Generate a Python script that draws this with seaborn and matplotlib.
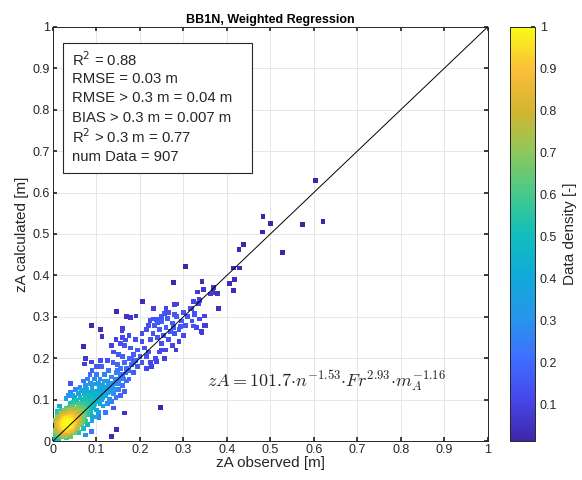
"""
Density scatter of calculated vs observed zA (BB1N, weighted regression)
"""

import numpy as np
import pandas as pd
import seaborn as sns
from matplotlib import pyplot as plt
from matplotlib.colors import LinearSegmentedColormap, Normalize
from matplotlib.cm import ScalarMappable
from matplotlib.patches import Rectangle

# points: (zA observed, zA calculated)
core_pts = [
    (0.010, 0.012), (0.014, 0.020), (0.018, 0.015), (0.012, 0.028), (0.020, 0.025),
    (0.024, 0.018), (0.016, 0.034), (0.022, 0.032), (0.026, 0.027), (0.028, 0.036),
    (0.030, 0.022), (0.019, 0.040), (0.025, 0.042), (0.032, 0.031), (0.034, 0.040),
    (0.029, 0.047), (0.036, 0.026), (0.038, 0.035), (0.021, 0.047), (0.015, 0.045),
    (0.040, 0.044), (0.042, 0.031), (0.035, 0.051), (0.027, 0.054), (0.044, 0.039),
    (0.046, 0.050), (0.013, 0.038), (0.031, 0.058), (0.039, 0.057), (0.048, 0.043),
    (0.024, 0.060), (0.011, 0.049), (0.017, 0.057), (0.050, 0.055), (0.044, 0.062),
    (0.037, 0.066), (0.053, 0.048), (0.033, 0.038), (0.023, 0.037), (0.027, 0.031),
    (0.020, 0.020), (0.031, 0.044), (0.017, 0.026), (0.008, 0.020), (0.006, 0.008),
    (0.012, 0.005), (0.022, 0.010), (0.028, 0.014), (0.034, 0.017), (0.040, 0.022),
    (0.046, 0.028), (0.008, 0.032), (0.009, 0.042), (0.014, 0.052), (0.021, 0.064),
    (0.029, 0.068), (0.041, 0.072), (0.049, 0.066), (0.055, 0.060), (0.057, 0.070),
    (0.052, 0.036), (0.058, 0.047), (0.062, 0.055), (0.047, 0.076), (0.035, 0.074),
    (0.026, 0.074), (0.016, 0.066), (0.010, 0.060), (0.006, 0.050), (0.032, 0.008),
    (0.040, 0.012), (0.050, 0.020), (0.056, 0.030), (0.060, 0.040), (0.065, 0.065),
    (0.063, 0.075), (0.055, 0.080), (0.045, 0.085), (0.038, 0.082), (0.030, 0.080),
    (0.020, 0.075), (0.068, 0.050), (0.070, 0.060), (0.072, 0.070), (0.066, 0.082),
    (0.058, 0.088), (0.048, 0.093), (0.040, 0.092), (0.015, 0.085), (0.010, 0.072),
    (0.012, 0.016), (0.016, 0.024), (0.020, 0.030), (0.024, 0.034), (0.028, 0.040),
    (0.032, 0.045), (0.036, 0.049), (0.040, 0.053), (0.044, 0.057), (0.018, 0.036),
    (0.022, 0.042), (0.026, 0.046), (0.030, 0.050), (0.034, 0.055), (0.038, 0.060),
    (0.014, 0.030), (0.010, 0.024), (0.018, 0.020), (0.022, 0.022), (0.026, 0.022),
    (0.030, 0.028), (0.034, 0.034), (0.038, 0.040), (0.042, 0.046), (0.046, 0.034),
    (0.042, 0.026), (0.036, 0.021), (0.030, 0.017), (0.024, 0.013), (0.016, 0.010),
    (0.009, 0.015), (0.006, 0.025), (0.011, 0.034), (0.015, 0.041), (0.019, 0.051),
    (0.023, 0.055), (0.027, 0.060), (0.033, 0.063), (0.040, 0.065), (0.045, 0.068),
    (0.051, 0.060), (0.048, 0.050), (0.044, 0.046), (0.037, 0.044), (0.033, 0.026),
    (0.028, 0.025), (0.021, 0.036), (0.017, 0.046), (0.013, 0.044), (0.025, 0.050),
    (0.031, 0.054), (0.035, 0.045), (0.039, 0.030), (0.043, 0.036), (0.047, 0.040),
    (0.050, 0.046), (0.054, 0.054), (0.020, 0.058), (0.012, 0.058), (0.008, 0.038),
    (0.005, 0.015), (0.004, 0.004), (0.009, 0.008), (0.015, 0.013), (0.027, 0.019),
    (0.019, 0.033), (0.029, 0.033), (0.025, 0.038), (0.035, 0.036), (0.040, 0.038),
]

band_pts = [
    (0.060, 0.082), (0.064, 0.092), (0.070, 0.085), (0.074, 0.078), (0.078, 0.090),
    (0.068, 0.100), (0.075, 0.105), (0.082, 0.098), (0.080, 0.082), (0.086, 0.088),
    (0.088, 0.108), (0.092, 0.095), (0.072, 0.115), (0.084, 0.118), (0.095, 0.112),
    (0.098, 0.100), (0.062, 0.105), (0.055, 0.098), (0.050, 0.105), (0.045, 0.110),
    (0.058, 0.115), (0.066, 0.122), (0.078, 0.125), (0.090, 0.128), (0.100, 0.120),
    (0.104, 0.108), (0.094, 0.082), (0.086, 0.072), (0.080, 0.065), (0.072, 0.058),
    (0.076, 0.048), (0.066, 0.042), (0.090, 0.060), (0.100, 0.075), (0.108, 0.090),
    (0.112, 0.100), (0.106, 0.130), (0.096, 0.138), (0.086, 0.140), (0.074, 0.135),
    (0.062, 0.130), (0.052, 0.125), (0.040, 0.118), (0.035, 0.110), (0.030, 0.102),
    (0.070, 0.030), (0.080, 0.040), (0.090, 0.050), (0.060, 0.020), (0.075, 0.015),
    (0.110, 0.120), (0.115, 0.135), (0.120, 0.110), (0.125, 0.145), (0.130, 0.125),
    (0.135, 0.155), (0.140, 0.140), (0.118, 0.160), (0.108, 0.150), (0.100, 0.160),
    (0.095, 0.150), (0.128, 0.170), (0.145, 0.165), (0.150, 0.150), (0.155, 0.175),
    (0.160, 0.160), (0.148, 0.185), (0.138, 0.190), (0.125, 0.195), (0.112, 0.180),
    (0.165, 0.190), (0.170, 0.175), (0.175, 0.200), (0.160, 0.205), (0.150, 0.210),
    (0.140, 0.215), (0.180, 0.185), (0.185, 0.210), (0.190, 0.195), (0.178, 0.225),
    (0.165, 0.230), (0.155, 0.235), (0.195, 0.220), (0.200, 0.205), (0.130, 0.100),
    (0.140, 0.115), (0.150, 0.125), (0.160, 0.135), (0.170, 0.145), (0.115, 0.085),
    (0.125, 0.090), (0.135, 0.095), (0.145, 0.105), (0.155, 0.110), (0.165, 0.120),
    (0.175, 0.150), (0.120, 0.070), (0.140, 0.080), (0.105, 0.070), (0.098, 0.058),
    (0.110, 0.195), (0.100, 0.180), (0.090, 0.170), (0.085, 0.160), (0.080, 0.150),
    (0.070, 0.145), (0.135, 0.230), (0.145, 0.245), (0.160, 0.250), (0.175, 0.255),
    (0.190, 0.245), (0.205, 0.240), (0.210, 0.225), (0.195, 0.180), (0.185, 0.165),
    (0.205, 0.190), (0.215, 0.205), (0.220, 0.215),
    (0.055, 0.070), (0.060, 0.062), (0.065, 0.072), (0.070, 0.092), (0.076, 0.098),
    (0.082, 0.108), (0.088, 0.095), (0.094, 0.105), (0.100, 0.110), (0.104, 0.118),
    (0.110, 0.110), (0.116, 0.125), (0.120, 0.130), (0.126, 0.118), (0.132, 0.140),
    (0.138, 0.130), (0.144, 0.150), (0.150, 0.140), (0.156, 0.160), (0.162, 0.150),
    (0.168, 0.165), (0.174, 0.170), (0.180, 0.200), (0.186, 0.190), (0.058, 0.072),
    (0.068, 0.078), (0.078, 0.075), (0.084, 0.080), (0.096, 0.090), (0.102, 0.095),
    (0.114, 0.105), (0.122, 0.120), (0.128, 0.135), (0.134, 0.120), (0.142, 0.125),
    (0.148, 0.170), (0.118, 0.145), (0.105, 0.140), (0.092, 0.118), (0.080, 0.110),
]

upper_pts = [
    (0.225, 0.245), (0.230, 0.260), (0.240, 0.250), (0.245, 0.270), (0.250, 0.235),
    (0.255, 0.255), (0.260, 0.275), (0.265, 0.245), (0.270, 0.265), (0.275, 0.285),
    (0.280, 0.260), (0.285, 0.300), (0.290, 0.270), (0.295, 0.290), (0.300, 0.310),
    (0.305, 0.280), (0.310, 0.300), (0.315, 0.320), (0.320, 0.290), (0.325, 0.305),
    (0.330, 0.275), (0.300, 0.255), (0.290, 0.240), (0.275, 0.230), (0.260, 0.220),
    (0.245, 0.215), (0.235, 0.200), (0.225, 0.190), (0.215, 0.175), (0.240, 0.285),
    (0.250, 0.300), (0.265, 0.310), (0.230, 0.295), (0.215, 0.270), (0.205, 0.260),
    (0.220, 0.280), (0.257, 0.308), (0.279, 0.306), (0.263, 0.296), (0.250, 0.288),
    (0.238, 0.294), (0.223, 0.292), (0.219, 0.280), (0.234, 0.280), (0.277, 0.275),
    (0.294, 0.276), (0.323, 0.337), (0.336, 0.342), (0.334, 0.333), (0.319, 0.320),
    (0.326, 0.308), (0.337, 0.295), (0.350, 0.279), (0.342, 0.264), (0.323, 0.278),
    (0.227, 0.180), (0.238, 0.192), (0.257, 0.200), (0.283, 0.220), (0.250, 0.220),
]

outlier_pts = [
    (0.603, 0.629), (0.483, 0.542), (0.500, 0.525), (0.482, 0.505), (0.574, 0.522),
    (0.621, 0.531), (0.528, 0.455), (0.438, 0.475), (0.428, 0.462), (0.415, 0.418),
    (0.429, 0.418), (0.418, 0.391), (0.406, 0.381), (0.416, 0.364), (0.370, 0.370),
    (0.379, 0.357), (0.362, 0.355), (0.346, 0.366), (0.343, 0.385), (0.381, 0.321),
    (0.338, 0.339), (0.349, 0.302), (0.338, 0.295), (0.349, 0.279), (0.343, 0.263),
    (0.304, 0.422), (0.278, 0.382), (0.332, 0.360), (0.368, 0.358), (0.206, 0.338),
    (0.146, 0.312), (0.169, 0.300), (0.178, 0.299), (0.191, 0.302), (0.232, 0.320),
    (0.260, 0.321), (0.280, 0.329), (0.284, 0.331), (0.089, 0.280), (0.110, 0.269),
    (0.113, 0.252), (0.160, 0.271), (0.071, 0.229), (0.074, 0.200), (0.073, 0.186),
    (0.088, 0.191), (0.041, 0.139), (0.247, 0.082), (0.165, 0.068), (0.146, 0.028),
    (0.135, 0.012), (0.089, 0.023), (0.106, 0.057), (0.159, 0.266), (0.166, 0.244),
]

stats_lines = [
    "R$^2$ = 0.88",
    "RMSE = 0.03 m",
    "RMSE > 0.3 m = 0.04 m",
    "BIAS > 0.3 m = 0.007 m",
    "R$^2$ > 0.3 m = 0.77",
    "num Data = 907",
]

# parula-like colormap
parula_hex = ["#3e26a8", "#4747eb", "#3e6fff", "#2796eb", "#10aad8", "#12bebb",
              "#47c98a", "#8fc85a", "#d4b530", "#fcbf3a", "#f9fb14"]
parula = LinearSegmentedColormap.from_list("parula", parula_hex)

# collect the points
pts = np.array(core_pts + band_pts + upper_pts + outlier_pts)
df = pd.DataFrame(pts, columns=["obs", "calc"])

# gaussian kernel density at each point, normalised to 1
h = 0.028
dx = df["obs"].values[:, None] - df["obs"].values[None, :]
dy = df["calc"].values[:, None] - df["calc"].values[None, :]
dens = np.exp(-(dx**2 + dy**2) / (2 * h**2)).sum(axis=1)
df["dens"] = dens / dens.max()
df = df.sort_values("dens")

sns.set_theme(style="ticks")
plt.rcParams["font.family"] = ["Liberation Sans", "DejaVu Sans"]

fig = plt.figure(figsize=(5.82, 4.8), dpi=100)
ax = fig.add_axes([0.091, 0.081, 0.747, 0.863])
cax = fig.add_axes([0.876, 0.081, 0.043, 0.863])

vmin = 0.014
sns.scatterplot(data=df, x="obs", y="calc", hue="dens", palette=parula,
                hue_norm=(vmin, 1), marker="s", s=12, linewidth=0,
                legend=False, ax=ax, zorder=3)

# 1:1 line
ax.plot([0, 1], [0, 1], color="black", lw=0.7, zorder=4)

ax.set_xlim(0, 1)
ax.set_ylim(0, 1)
ticks = np.round(np.arange(0, 1.01, 0.1), 1)
labels = ["0" if t == 0 else ("1" if t == 1 else f"{t:g}") for t in ticks]
ax.set_xticks(ticks)
ax.set_xticklabels(labels)
ax.set_yticks(ticks)
ax.set_yticklabels(labels)
ax.grid(True, color="#e6e6e6", lw=0.7, zorder=0)
ax.tick_params(direction="in", length=3, labelsize=9, colors="#262626",
               top=True, right=True, pad=2)
for sp in ax.spines.values():
    sp.set_color("#262626")
    sp.set_linewidth(0.7)

ax.set_xlabel("zA observed [m]", fontsize=11, labelpad=0, color="#262626")
ax.set_ylabel("zA calculated [m]", fontsize=11, labelpad=3, color="#262626")
ax.set_title("BB1N, Weighted Regression", fontsize=9, fontweight="bold",
             pad=3, color="black")

# stats box
ax.add_patch(Rectangle((0.023, 0.647), 0.434, 0.314, transform=ax.transAxes,
                       fc="white", ec="#262626", lw=0.8, zorder=5))
for i, line in enumerate(stats_lines):
    ax.text(0.044, 0.922 - i * 0.047, line, transform=ax.transAxes,
            va="center", ha="left", fontsize=10.7, zorder=6, color="#262626")

# regression equation
ax.text(0.354, 0.143,
        r"$zA = 101.7{\cdot}n^{-1.53}{\cdot}Fr^{2.93}{\cdot}m_A^{-1.16}$",
        fontsize=13, va="center", ha="left", math_fontfamily="cm", zorder=5)

# colorbar
sm = ScalarMappable(norm=Normalize(vmin, 1), cmap=parula)
cb = fig.colorbar(sm, cax=cax)
cb.set_ticks(np.round(np.arange(0.1, 1.01, 0.1), 1))
cb.set_ticklabels(["0.1", "0.2", "0.3", "0.4", "0.5", "0.6", "0.7", "0.8", "0.9", "1"])
cb.ax.tick_params(labelsize=9, length=3, direction="in", colors="#262626")
cb.outline.set_edgecolor("#262626")
cb.outline.set_linewidth(0.7)
cb.set_label("Data density [-]", fontsize=11, color="#262626", labelpad=4)

plt.savefig("out.png", dpi=100)
